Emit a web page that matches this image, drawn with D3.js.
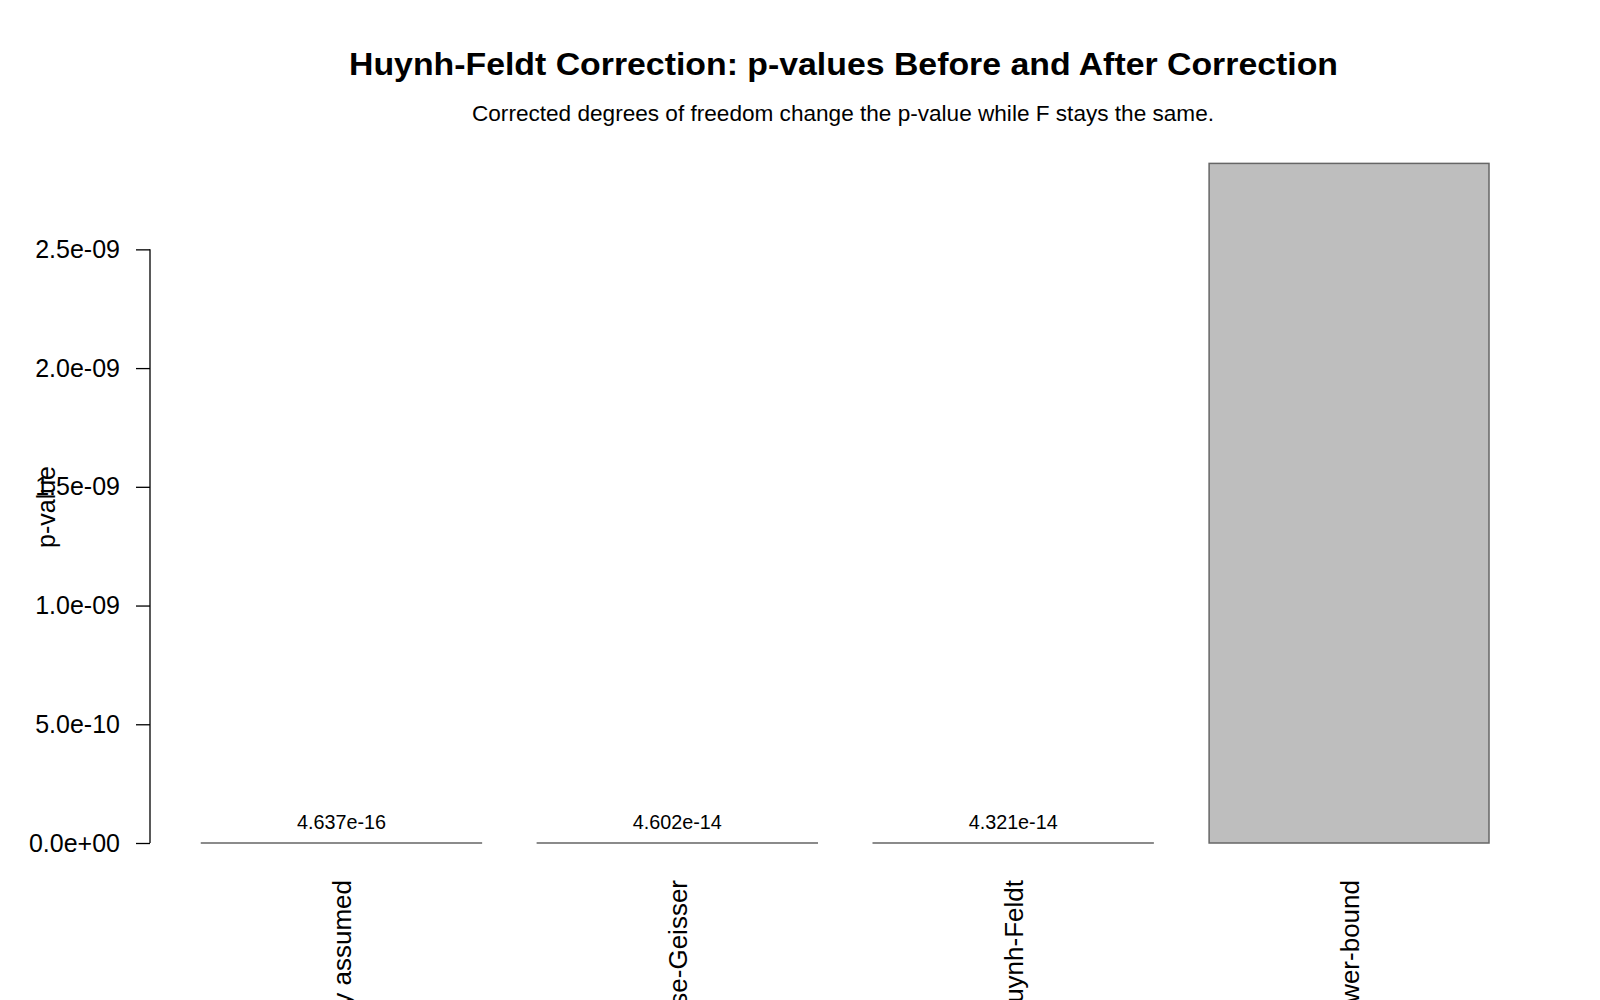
<!DOCTYPE html>
<html>
<head>
<meta charset="utf-8">
<script src="https://cdn.jsdelivr.net/npm/d3@7"></script>
<style>
  body { margin: 0; background: #fff; }
  svg text { font-family: "Liberation Sans", Arial, sans-serif; fill: #000; }
</style>
</head>
<body>
<div id="chart"></div>
<script>
// data
const categories = ["Sphericity assumed", "Greenhouse-Geisser", "Huynh-Feldt", "Lower-bound"];
const pValues = [4.637e-16, 4.602e-14, 4.321e-14, 2.862e-9];
const yTicks = [0, 5e-10, 1e-9, 1.5e-9, 2e-9, 2.5e-9];

const width = 1600, height = 1000;
const plot = {left: 150, right: 1540.5, top: 171, bottom: 843};

const svg = d3.select("#chart").append("svg")
    .attr("width", width)
    .attr("height", height);

// barplot units: width 1, space 0.2, R's 4% axis extension
const xScale = d3.scaleLinear()
    .domain([0.016, 4.984])
    .range([plot.left, plot.right]);

const yScale = d3.scaleLinear()
    .domain([0, 2.83e-9])
    .range([plot.bottom, plot.top]);

// R style exponent format, e.g. 5.0e-10, 0.0e+00
function rExp(v, digits) {
    let s = v.toExponential(digits);
    let parts = s.split("e");
    let sign = parts[1][0];
    let ex = parts[1].slice(1);
    if (ex.length < 2) ex = "0" + ex;
    return parts[0] + "e" + sign + ex;
}

svg.append("defs").append("clipPath").attr("id", "plotClip")
    .append("rect")
    .attr("x", plot.left).attr("y", plot.top)
    .attr("width", plot.right - plot.left)
    .attr("height", plot.bottom - plot.top);

// bars
svg.selectAll("rect.bar").data(pValues).enter().append("rect")
    .attr("class", "bar")
    .attr("x", (d, i) => xScale(0.2 + i * 1.2))
    .attr("width", (d, i) => xScale(1.2 + i * 1.2) - xScale(0.2 + i * 1.2))
    .attr("y", d => yScale(d))
    .attr("height", d => yScale(0) - yScale(d))
    .attr("fill", "#bebebe")
    .attr("stroke", "#666")
    .attr("stroke-width", 1.5);

// value labels (clipped to plot region like R's text())
svg.append("g").attr("clip-path", "url(#plotClip)")
    .selectAll("text").data(pValues).enter().append("text")
    .attr("x", (d, i) => xScale(0.7 + i * 1.2))
    .attr("y", d => yScale(d) - 14)
    .attr("text-anchor", "middle")
    .attr("font-size", 20)
    .attr("textLength", 89)
    .attr("lengthAdjust", "spacingAndGlyphs")
    .text(d => rExp(d, 3));

// y axis
const axisy = d3.axisLeft(yScale)
    .tickValues(yTicks)
    .tickSize(14)
    .tickPadding(16)
    .tickFormat(d => rExp(d, 1));

let yAxis = svg.append("g")
    .attr("transform", "translate(" + plot.left + ",0)")
    .call(axisy);
yAxis.select(".domain")
    .attr("d", "M0," + yScale(yTicks[yTicks.length - 1]) + "V" + yScale(0))
    .attr("stroke", "#000").attr("stroke-width", 1.3);
yAxis.selectAll(".tick line").attr("stroke", "#000").attr("stroke-width", 1.3);
yAxis.selectAll(".tick text")
    .attr("font-size", 25)
    .attr("fill", "#000")
    .style("font-family", "'Liberation Sans', Arial, sans-serif");

// category labels, rotated (las = 2)
svg.selectAll("text.cat").data(categories).enter().append("text")
    .attr("class", "cat")
    .attr("transform", (d, i) => "translate(" + (xScale(0.7 + i * 1.2) + 10) + ",880) rotate(-90)")
    .attr("text-anchor", "end")
    .attr("font-size", 26)
    .text(d => d);

// y label
svg.append("text")
    .attr("transform", "translate(55," + ((plot.top + plot.bottom) / 2) + ") rotate(-90)")
    .attr("text-anchor", "middle")
    .attr("font-size", 25)
    .text("p-value");

// title + subtitle
svg.append("text")
    .attr("x", 843.5).attr("y", 75)
    .attr("text-anchor", "middle")
    .attr("font-size", 32)
    .attr("font-weight", "bold")
    .attr("textLength", 989)
    .attr("lengthAdjust", "spacingAndGlyphs")
    .text("Huynh-Feldt Correction: p-values Before and After Correction");

svg.append("text")
    .attr("x", 843).attr("y", 121)
    .attr("text-anchor", "middle")
    .attr("font-size", 22)
    .attr("textLength", 742)
    .attr("lengthAdjust", "spacingAndGlyphs")
    .text("Corrected degrees of freedom change the p-value while F stays the same.");
</script>
</body>
</html>
